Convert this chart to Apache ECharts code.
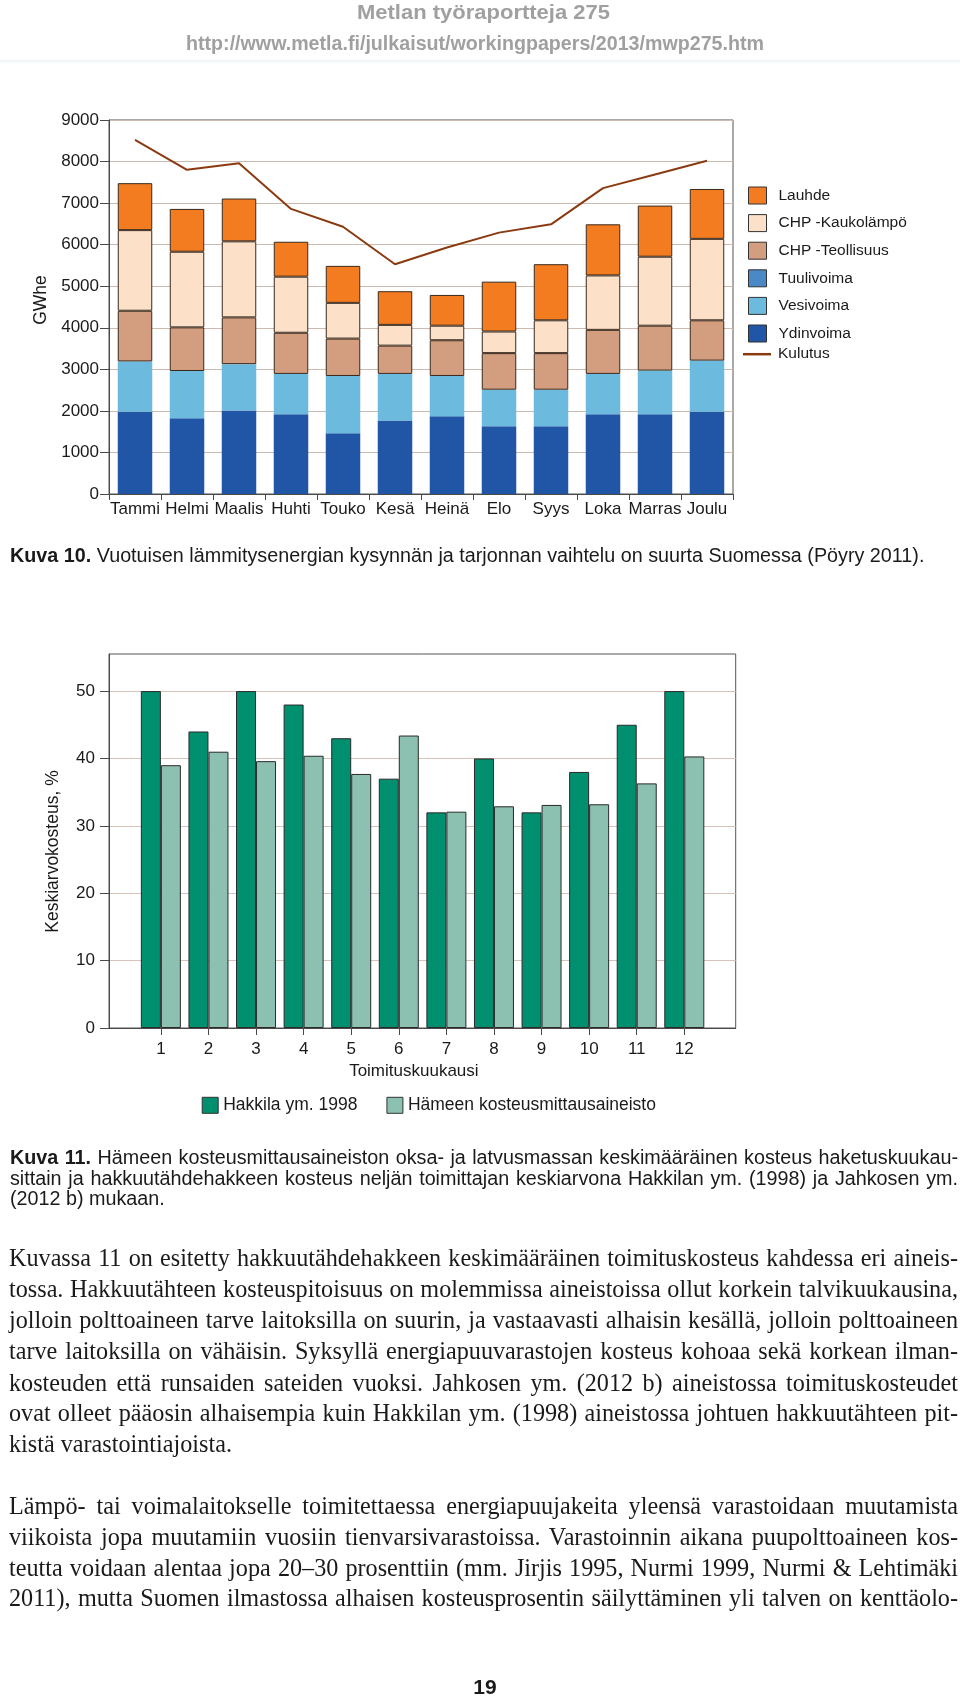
<!DOCTYPE html>
<html><head><meta charset="utf-8"><title>Kuva 10 ja 11</title>
<script src="https://cdn.jsdelivr.net/npm/echarts@6.0.0/dist/echarts.min.js"></script>
<style>
html,body{margin:0;padding:0;background:#fff;}
#page{position:relative;width:960px;height:1699px;overflow:hidden;background:#fff;}
#chart{position:absolute;left:0;top:0;width:960px;height:1699px;}
.t{position:absolute;white-space:nowrap;transform-origin:0 50%;color:#1a1a1a;}
.j{white-space:normal;text-align:justify;text-align-last:justify;}
</style></head>
<body><div id="page"><div id="chart"></div></div>
<script>
// ---------- Kuva 10 data (GWhe) ----------
const months = ['Tammi','Helmi','Maalis','Huhti','Touko','Kesä','Heinä','Elo','Syys','Loka','Marras','Joulu'];
const ydinvoima   = [1980,1820,2010,1920,1460,1770,1870,1630,1630,1920,1920,1980];
const tuulivoima  = [0,0,0,0,0,0,0,0,0,0,0,0];
const vesivoima   = [1210,1140,1115,970,1380,1120,970,880,880,970,1050,1230];
const chpTeollisuus = [1220,1050,1125,990,900,680,860,880,880,1060,1080,970];
const chpKaukolampo = [1940,1820,1830,1350,860,500,350,520,790,1310,1660,1960];
const lauhde      = [1130,1030,1030,840,890,810,740,1200,1350,1230,1230,1200];
const kulutus     = [8520,7800,7960,6860,6430,5530,5930,6290,6490,7360,7690,8020];
const yTicks1 = {min:0, max:9000, step:1000};

// ---------- Kuva 11 data (%) ----------
const kuukaudet = [1,2,3,4,5,6,7,8,9,10,11,12];
const hakkila = [50,44,50,48,43,37,32,40,32,38,45,50];
const hameen  = [39,41,39.6,40.4,37.7,43.4,32.1,32.9,33.1,33.2,36.3,40.3];
const yTicks2 = [0,10,20,30,40,50];

const FONT = '"Liberation Sans", Arial, sans-serif';
const TXT = '#1a1a1a';
const AX = '#4a4a4a';

const chart = echarts.init(document.getElementById('chart'), null, {renderer:'canvas'});

const edge = {borderColor:'#3a2a1c', borderWidth:1};
function barSeries(name, data, color, bordered){
  return {name, type:'bar', stack:'tot', xAxisIndex:0, yAxisIndex:0, barWidth:34.5, data,
    itemStyle: Object.assign({color}, bordered ? edge : {borderWidth:0}), emphasis:{disabled:true}};
}
const plain = v => String(v);

const option = {
  animation:false,
  textStyle:{fontFamily:FONT, color:TXT},
  grid:[
    {left:109, top:120, width:624, height:374, show:true, borderColor:'#555', borderWidth:1, containLabel:false, outerBoundsMode:'none'},
    {left:109, top:654, width:626.7, height:374, show:true, borderColor:'#555', borderWidth:1, containLabel:false, outerBoundsMode:'none'}
  ],
  xAxis:[
    {gridIndex:0, type:'category', data:months,
     axisLine:{lineStyle:{color:AX, width:1}},
     axisTick:{show:true, length:6, lineStyle:{color:AX}},
     axisLabel:{interval:0, margin:7, fontSize:17, color:TXT, fontFamily:FONT},
     splitLine:{show:false}},
    {gridIndex:1, type:'value', min:-0.09, max:13.08,
     axisLine:{onZero:false, lineStyle:{color:AX, width:1}},
     axisTick:{show:true, length:7, customValues:kuukaudet, lineStyle:{color:AX}},
     axisLabel:{customValues:kuukaudet, margin:13, fontSize:17, color:TXT, fontFamily:FONT, formatter:plain},
     splitLine:{show:false},
     name:'Toimituskuukausi', nameLocation:'middle', nameGap:35,
     nameTextStyle:{fontSize:17, color:TXT, fontFamily:FONT, padding:[0,17,0,0]}}
  ],
  yAxis:[
    {gridIndex:0, type:'value', min:yTicks1.min, max:yTicks1.max, interval:yTicks1.step,
     name:'GWhe', nameLocation:'middle', nameGap:55.5,
     nameTextStyle:{fontSize:17.5, color:TXT, fontFamily:FONT, padding:[0,0,0,14]},
     axisLine:{show:true, onZero:false, lineStyle:{color:AX, width:1}},
     axisTick:{show:true, length:9, lineStyle:{color:AX}},
     axisLabel:{fontSize:17, margin:10, color:TXT, fontFamily:FONT, formatter:plain},
     splitLine:{show:true, lineStyle:{color:'#cdbbb0', width:1}}},
    {gridIndex:1, type:'value', min:0, max:55.5, interval:10,
     name:'Keskiarvokosteus, %', nameLocation:'middle', nameGap:46.5,
     nameTextStyle:{fontSize:17.5, color:TXT, fontFamily:FONT, padding:[0,21,0,0]},
     axisLine:{show:true, onZero:false, lineStyle:{color:AX, width:1}},
     axisTick:{show:true, length:9, customValues:yTicks2, lineStyle:{color:AX}},
     axisLabel:{customValues:yTicks2, fontSize:17, margin:14, color:TXT, fontFamily:FONT, formatter:plain},
     splitLine:{show:true, lineStyle:{color:'#d6c2b8', width:1}}}
  ],
  legend:[
    {data:['Lauhde','CHP -Kaukolämpö','CHP -Teollisuus','Tuulivoima','Vesivoima','Ydinvoima'],
     orient:'vertical', left:748, top:186.5, padding:0, itemWidth:18, itemHeight:17, itemGap:9.6, icon:'rect',
     itemStyle:{borderColor:'#333', borderWidth:1},
     textStyle:{fontSize:15.5, color:TXT, fontFamily:FONT, padding:[0,0,0,7]}, selectedMode:false},
    {data:['Kulutus'], left:743, top:346.2, padding:0, itemWidth:28, itemHeight:2.5, icon:'rect',
     textStyle:{fontSize:15.5, color:TXT, fontFamily:FONT, padding:[0,0,0,2]}, selectedMode:false},
    {data:['Hakkila ym. 1998','Hämeen kosteusmittausaineisto'], left:201.7, top:1096.3, padding:0,
     itemWidth:16, itemHeight:16, itemGap:29, icon:'rect', itemStyle:{borderColor:'#333', borderWidth:1},
     textStyle:{fontSize:17.5, color:TXT, fontFamily:FONT}, selectedMode:false}
  ],
  series:[
    barSeries('Ydinvoima', ydinvoima, '#2156a6', false),
    barSeries('Tuulivoima', tuulivoima, '#4a88c6', false),
    barSeries('Vesivoima', vesivoima, '#6cbade', false),
    barSeries('CHP -Teollisuus', chpTeollisuus, '#d39d7f', true),
    barSeries('CHP -Kaukolämpö', chpKaukolampo, '#fde0c8', true),
    barSeries('Lauhde', lauhde, '#f47c20', true),
    {name:'Kulutus', type:'line', xAxisIndex:0, yAxisIndex:0, data:kulutus, symbol:'none', z:5,
     lineStyle:{color:'#8b3a10', width:2}, itemStyle:{color:'#8b3a10'}, emphasis:{disabled:true}},
    {name:'Hakkila ym. 1998', type:'bar', xAxisIndex:1, yAxisIndex:1, barWidth:20, barGap:'0%',
     data:kuukaudet.map((m,i)=>[m, hakkila[i]]),
     itemStyle:{color:'#00906f', borderColor:'#2a2a2a', borderWidth:1}, emphasis:{disabled:true}},
    {name:'Hämeen kosteusmittausaineisto', type:'bar', xAxisIndex:1, yAxisIndex:1, barWidth:20, barGap:'0%',
     data:kuukaudet.map((m,i)=>[m, hameen[i]]),
     itemStyle:{color:'#8cc1b1', borderColor:'#2a2a2a', borderWidth:1}, emphasis:{disabled:true}}
  ]
};
chart.setOption(option);

// ---------- page text ----------
const page = document.getElementById('page');
function natural(html, font){
  const s=document.createElement('span');
  s.style.cssText='position:absolute;visibility:hidden;white-space:nowrap;';
  s.style.font=font; s.innerHTML=html; page.appendChild(s);
  const w=s.getBoundingClientRect().width; page.removeChild(s); return w;
}
function put(html, font, x, cy, width, scale, mode, color){
  const d=document.createElement('div');
  d.className='t'+(mode==='j'?' j':'');
  d.style.font=font; d.style.lineHeight='1.2';
  if(color) d.style.color=color;
  d.innerHTML=html; page.appendChild(d);
  const fs=parseFloat(font.match(/([\d.]+)px/)[1]);
  d.style.top=(cy-fs*0.6)+'px';
  if(mode==='j'){ d.style.width=(width/scale)+'px'; d.style.left=x+'px'; }
  else if(mode==='c'){ d.style.left=(x-natural(html,font)*scale/2)+'px'; }
  else d.style.left=x+'px';
  d.style.transform='scaleX('+scale+')';
}

// header
const hFont='bold 20px "Liberation Sans", Arial, sans-serif';
const h1='Metlan työraportteja 275', h2='http://www.metla.fi/julkaisut/workingpapers/2013/mwp275.htm';
put(h1,hFont,483.5,12,0,253/natural(h1,hFont),'c','#a0a0a0');
put(h2,hFont,475,43,0,578/natural(h2,hFont),'c','#a0a0a0');
const sep=document.createElement('div');
sep.style.cssText='position:absolute;left:0;top:60px;width:960px;height:4px;background:linear-gradient(#eef3f5,#fff);';
page.appendChild(sep);

// captions
const cFont='20px "Liberation Sans", Arial, sans-serif';
const cap10='<b>Kuva 10.</b> Vuotuisen lämmitysenergian kysynnän ja tarjonnan vaihtelu on suurta Suomessa (Pöyry 2011).';
const cap11=[
 '<b>Kuva 11.</b> Hämeen kosteusmittausaineiston oksa- ja latvusmassan keskimääräinen kosteus haketuskuukau-',
 'sittain ja hakkuutähdehakkeen kosteus neljän toimittajan keskiarvona Hakkilan ym. (1998) ja Jahkosen ym.',
 '(2012 b) mukaan.'];
const cs=Math.min(919/natural(cap10,cFont), 948/natural(cap11[0],cFont), 948/natural(cap11[1],cFont))*0.995;
put(cap10,cFont,10,555,919,cs,'l');
put(cap11[0],cFont,10,1157,948,cs,'j');
put(cap11[1],cFont,10,1178,948,cs,'j');
put(cap11[2],cFont,10,1198,948,cs,'l');

// body text
const bFont='24.5px "Liberation Serif", "Times New Roman", serif';
const p1=[
 'Kuvassa 11 on esitetty hakkuutähdehakkeen keskimääräinen toimituskosteus kahdessa eri aineis-',
 'tossa. Hakkuutähteen kosteuspitoisuus on molemmissa aineistoissa ollut korkein talvikuukausina,',
 'jolloin polttoaineen tarve laitoksilla on suurin, ja vastaavasti alhaisin kesällä, jolloin polttoaineen',
 'tarve laitoksilla on vähäisin. Syksyllä energiapuuvarastojen kosteus kohoaa sekä korkean ilman-',
 'kosteuden että runsaiden sateiden vuoksi. Jahkosen ym. (2012 b) aineistossa toimituskosteudet',
 'ovat olleet pääosin alhaisempia kuin Hakkilan ym. (1998) aineistossa johtuen hakkuutähteen pit-',
 'kistä varastointiajoista.'];
const p2=[
 'Lämpö- tai voimalaitokselle toimitettaessa energiapuujakeita yleensä varastoidaan muutamista',
 'viikoista jopa muutamiin vuosiin tienvarsivarastoissa. Varastoinnin aikana puupolttoaineen kos-',
 'teutta voidaan alentaa jopa 20–30 prosenttiin (mm. Jirjis 1995, Nurmi 1999, Nurmi &amp; Lehtimäki',
 '2011), mutta Suomen ilmastossa alhaisen kosteusprosentin säilyttäminen yli talven on kenttäolo-'];
const p1y=[1258,1289,1320,1351,1383,1413,1444];
const p2y=[1506,1537,1568,1598];
const justified=p1.slice(0,6).concat(p2);
const bs=Math.min.apply(null, justified.map(l=>949/natural(l,bFont)))*0.995;
p1.forEach((l,i)=>put(l,bFont,9,p1y[i],949,bs,i<6?'j':'l'));
p2.forEach((l,i)=>put(l,bFont,9,p2y[i],949,bs,'j'));

// page number
const nFont='bold 21px "Liberation Sans", Arial, sans-serif';
put('19',nFont,485,1687,0,1,'c');
</script>
</body></html>
